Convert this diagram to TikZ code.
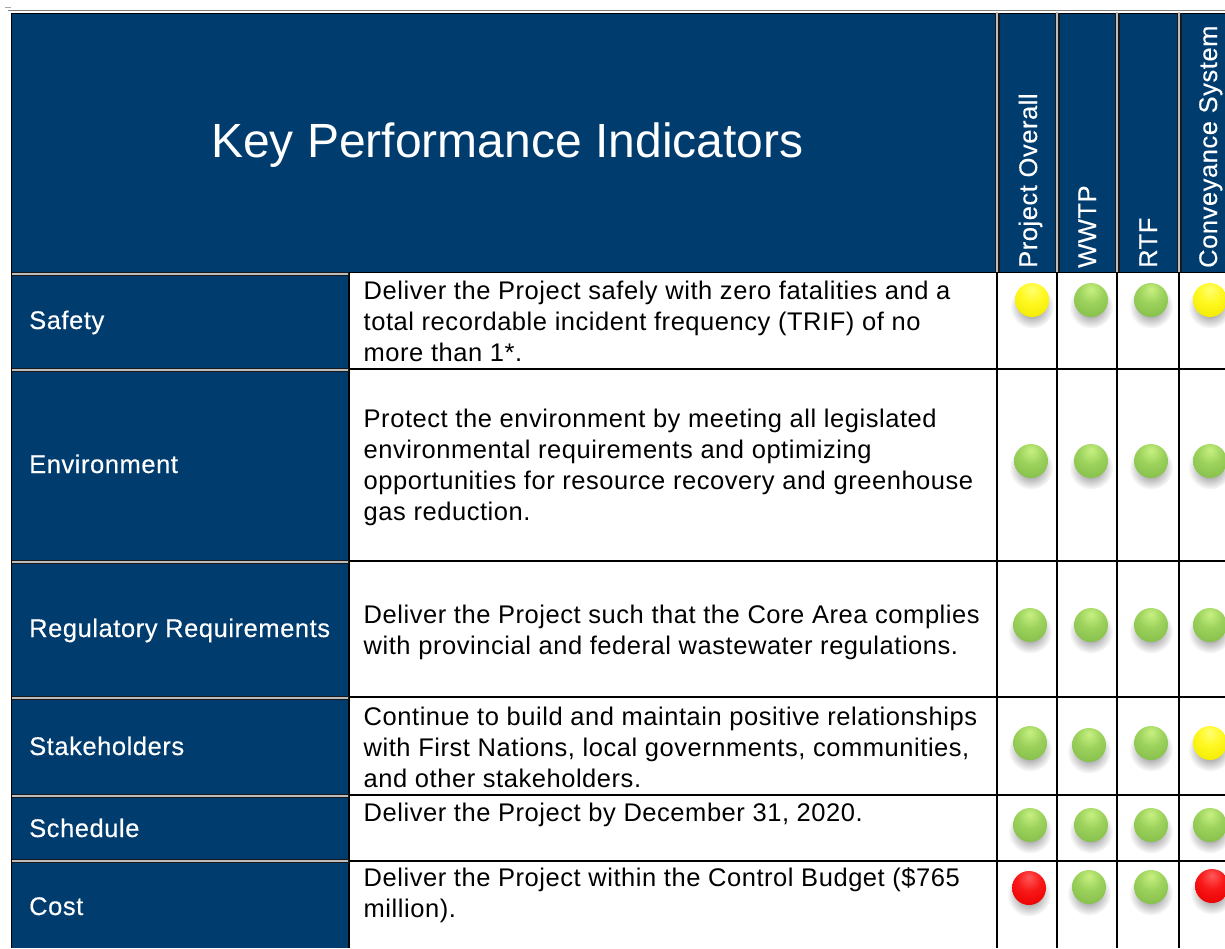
\documentclass[tikz,border=0pt]{standalone}
\usepackage{fontspec}
\setmainfont{Liberation Sans}
\usetikzlibrary{shadows,fadings}
\definecolor{navy}{HTML}{003C6E}
\definecolor{sep}{HTML}{BDBDBD}
\definecolor{gl}{HTML}{C8F082}\definecolor{gh}{HTML}{9CD25C}\definecolor{gm}{HTML}{84BE4A}\definecolor{gd}{HTML}{7CB444}\definecolor{gb}{HTML}{A0D862}
\definecolor{yl}{HTML}{FFFF70}\definecolor{yh}{HTML}{FFF820}\definecolor{ym}{HTML}{F2EA00}\definecolor{yd}{HTML}{E8E000}\definecolor{yb}{HTML}{FFFF30}
\definecolor{rl}{HTML}{FF5858}\definecolor{rh}{HTML}{F81818}\definecolor{rm}{HTML}{EA0000}\definecolor{rd}{HTML}{DC0000}\definecolor{rb}{HTML}{FF2828}
\pgfdeclareradialshading{gshade}{\pgfpoint{0bp}{16bp}}{color(0bp)=(gl);color(18bp)=(gh);color(38bp)=(gm);color(56bp)=(gd);color(66bp)=(gb);color(100bp)=(gb)}
\pgfdeclareradialshading{yshade}{\pgfpoint{0bp}{16bp}}{color(0bp)=(yl);color(18bp)=(yh);color(38bp)=(ym);color(56bp)=(yd);color(66bp)=(yb);color(100bp)=(yb)}
\pgfdeclareradialshading{rshade}{\pgfpoint{0bp}{16bp}}{color(0bp)=(rl);color(18bp)=(rh);color(38bp)=(rm);color(56bp)=(rd);color(66bp)=(rb);color(100bp)=(rb)}
\tikzfading[name=softshadow,inner color=transparent!20,outer color=transparent!100]
\tikzset{
  x=1pt,y=-1pt,
  ballbase/.style={circle,minimum size=34pt,inner sep=0pt,
    general shadow={fill=black,opacity=.7,path fading=softshadow,shadow scale=1.3,shadow yshift=-5pt}},
  gball/.style={ballbase,shading=gshade},
  yball/.style={ballbase,shading=yshade},
  rball/.style={ballbase,shading=rshade},
  rowlabel/.style={anchor=base west,inner sep=0pt,text=white,font=\fontsize{25.5}{31}\selectfont\addfontfeatures{LetterSpace=2.2,FakeBold=0.35}},
  rowtext/.style={anchor=north west,inner sep=0pt,align=left,text=black,font=\fontsize{25.5}{31}\selectfont\addfontfeatures{LetterSpace=2.15}},
  colhead/.style={anchor=base west,rotate=90,inner sep=0pt,text=white,font=\fontsize{25.5}{31}\selectfont\addfontfeatures{LetterSpace=2.2,FakeBold=0.25}},
  grid/.style={black,line width=1.6pt},
  seprule/.style={sep,line width=2pt},
  edgerule/.style={black!90,line width=5pt},
}
\begin{document}
\begin{tikzpicture}
\useasboundingbox (0,0) rectangle (1225,948);
\fill[white] (0,0) rectangle (1225,948);
% top rule and corner tick
\draw[gray,line width=1.8pt] (8,10.5) -- (1225,10.5);
\draw[gray!70,line width=1pt] (5,7.5) -- (11,7.5);
% navy cells
\fill[navy] (11,13) rectangle (997,273);
\foreach \a/\b in {997/1057,1057/1117,1117/1179,1179/1225}{\fill[navy] (\a,13) rectangle (\b,273);}
\fill[navy] (11,273) rectangle (349,948);
% outer dark edges
\draw[black,line width=1.4pt] (11.5,13) -- (11.5,948);
\draw[black,line width=1.4pt] (11,13.5) -- (1225,13.5);
\draw[black,line width=1.4pt] (349,273) -- (349,948);
% horizontal rules, body
\draw[black,line width=1.4pt] (349,272.5) -- (1225,272.5);
\foreach \yy in {369,561,697,795,861}{\draw[grid] (349,\yy) -- (1225,\yy);}
% horizontal rules, label column
\foreach \yy in {274,370,562,698,796,861}{
  \draw[black!90,line width=4pt] (12,\yy) -- (349,\yy);
  \draw[seprule] (12,\yy) -- (348,\yy);}
% vertical rules
\foreach \xx in {997,1057,1117,1179}{
  \draw[grid] (\xx,273) -- (\xx,948);
  \draw[edgerule] (\xx,13) -- (\xx,272);
  \draw[seprule] (\xx,12) -- (\xx,272);}
% title
\node[anchor=base west,inner sep=0pt,text=white,font=\fontsize{48}{52}\selectfont] (title) at (211,157) {Key Performance Indicators};
% column heads
\node[colhead] (h1) at (1037,268) {Project Overall};
\node[colhead] (h2) at (1096,268) {WWTP};
\node[colhead] (h3) at (1157,268) {RTF};
\node[colhead] (h4) at (1217,268) {Conveyance System};
% row labels
\node[rowlabel] (l1) at (29,329) {Safety};
\node[rowlabel] (l2) at (29,473) {Environment};
\node[rowlabel] (l3) at (29,637) {Regulatory Requirements};
\node[rowlabel] (l4) at (29,755) {Stakeholders};
\node[rowlabel] (l5) at (29,837) {Schedule};
\node[rowlabel] (l6) at (29,915) {Cost};
% row text
\node[rowtext] (t1) at (363.5,281) {Deliver the Project safely with zero fatalities and a\\total recordable incident frequency (TRIF) of no\\more than 1*.};
\node[rowtext] (t2) at (363.5,409) {Protect the environment by meeting all legislated\\environmental requirements and optimizing\\opportunities for resource recovery and greenhouse\\gas reduction.};
\node[rowtext] (t3) at (363.5,605) {Deliver the Project such that the Core Area complies\\with provincial and federal wastewater regulations.};
\node[rowtext] (t4) at (363.5,707) {Continue to build and maintain positive relationships\\with First Nations, local governments, communities,\\and other stakeholders.};
\node[rowtext] (t5) at (363.5,803) {Deliver the Project by December 31, 2020.};
\node[rowtext] (t6) at (363.5,867) {Deliver the Project within the Control Budget (\$765\\million).};
% status balls
\node[yball] (b11) at (1032,300) {};
\node[gball] (b12) at (1091,300) {};
\node[gball] (b13) at (1151,300) {};
\node[yball] (b14) at (1210,300) {};
\node[gball] (b21) at (1031,461) {};
\node[gball] (b22) at (1091,461) {};
\node[gball] (b23) at (1151,461) {};
\node[gball] (b24) at (1210,461) {};
\node[gball] (b31) at (1030,625) {};
\node[gball] (b32) at (1091,625) {};
\node[gball] (b33) at (1151,625) {};
\node[gball] (b34) at (1210,625) {};
\node[gball] (b41) at (1030,743) {};
\node[gball] (b42) at (1089,745) {};
\node[gball] (b43) at (1151,743) {};
\node[yball] (b44) at (1210,743) {};
\node[gball] (b51) at (1030,825) {};
\node[gball] (b52) at (1091,825) {};
\node[gball] (b53) at (1151,825) {};
\node[gball] (b54) at (1210,825) {};
\node[rball] (b61) at (1029,888) {};
\node[gball] (b62) at (1089,887) {};
\node[gball] (b63) at (1151,887) {};
\node[rball] (b64) at (1212,886) {};
\end{tikzpicture}
\end{document}
